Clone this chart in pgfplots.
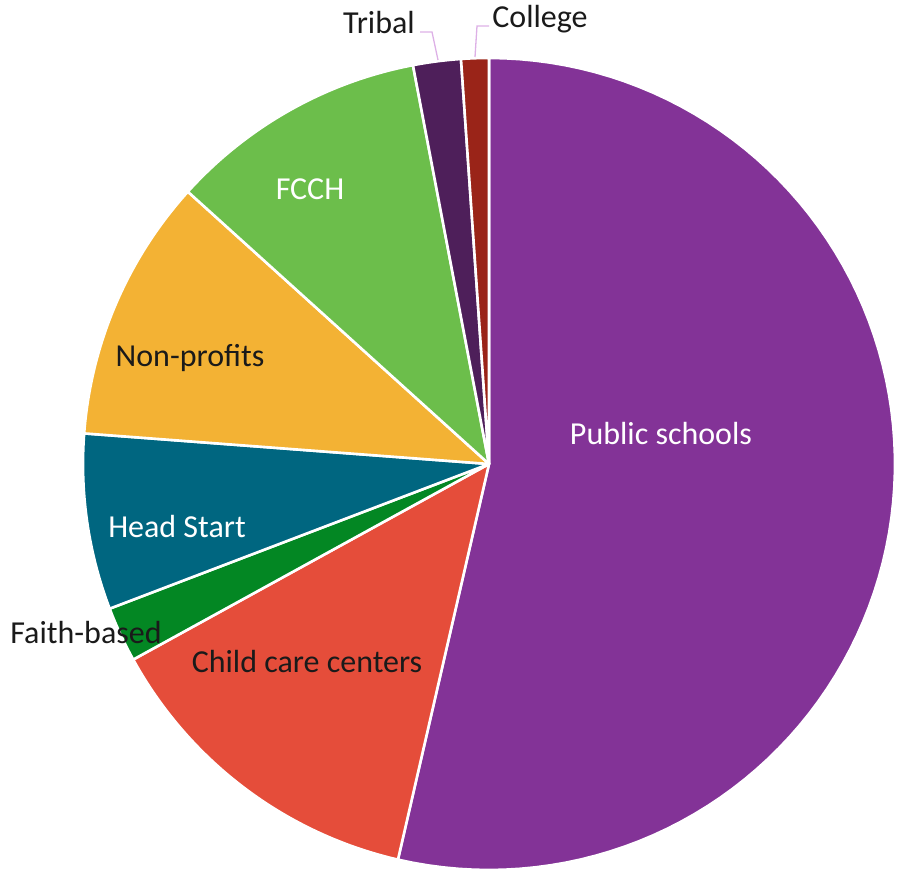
\documentclass[border=0pt]{standalone}
\usepackage{pgfplots}
\pgfplotsset{compat=1.18}
\usepackage{fontspec}
\setmainfont{Carlito}
\definecolor{cPub}{HTML}{833397}
\definecolor{cChild}{HTML}{E54D3A}
\definecolor{cFaith}{HTML}{038723}
\definecolor{cHead}{HTML}{006680}
\definecolor{cNon}{HTML}{F3B234}
\definecolor{cFCCH}{HTML}{6CBE4B}
\definecolor{cTribal}{HTML}{4E1F5A}
\definecolor{cCollege}{HTML}{9A2418}
\definecolor{cLead}{HTML}{DDB0E6}
\definecolor{cTxt}{HTML}{1A1A1A}
% shares (percent)
\def\vPub{53.6}
\def\vChild{13.4}
\def\vFaith{2.2}
\def\vHead{7.0}
\def\vNon{10.5}
\def\vFCCH{10.3}
\def\vTribal{1.9}
\def\vCollege{1.1}
\pgfmathsetmacro\aA{90}
\pgfmathsetmacro\aB{\aA-3.6*\vPub}
\pgfmathsetmacro\aC{\aB-3.6*\vChild}
\pgfmathsetmacro\aD{\aC-3.6*\vFaith}
\pgfmathsetmacro\aE{\aD-3.6*\vHead}
\pgfmathsetmacro\aF{\aE-3.6*\vNon}
\pgfmathsetmacro\aG{\aF-3.6*\vFCCH}
\pgfmathsetmacro\aH{\aG-3.6*\vTribal}
\pgfmathsetmacro\aI{\aH-3.6*\vCollege}
\newcommand{\pieslice}[3]{%
  \addplot[fill=#1, draw=white, line width=2.6pt, line join=round, domain=#3:#2, samples=90]
    ({489+406*cos(x)},{408+406*sin(x)}) -- (axis cs:489,408) -- cycle;}
\begin{document}
\begin{tikzpicture}
\begin{axis}[x=1pt, y=1pt, scale only axis, hide axis, clip=false,
  xmin=0, xmax=898, ymin=0, ymax=872]
\path (axis cs:0,0) rectangle (axis cs:898,872);
\pieslice{cPub}{\aA}{\aB}
\pieslice{cChild}{\aB}{\aC}
\pieslice{cFaith}{\aC}{\aD}
\pieslice{cHead}{\aD}{\aE}
\pieslice{cNon}{\aE}{\aF}
\pieslice{cFCCH}{\aF}{\aG}
\pieslice{cTribal}{\aG}{\aH}
\pieslice{cCollege}{\aH}{\aI}
\addplot[cLead, line width=1.3pt, mark=none] coordinates {(420,840) (432,840) (438,812)};
\addplot[cLead, line width=1.3pt, mark=none] coordinates {(489,846) (477,846) (475,815)};
\begin{scope}[font=\fontsize{32}{38}\selectfont]
\node[white] at (axis cs:661,438) {Public schools};
\node[white] at (axis cs:310,683) {FCCH};
\node[cTxt] at (axis cs:190,514) {Non-profits};
\node[white] at (axis cs:177,345) {Head Start};
\node[cTxt] at (axis cs:86,239) {Faith-based};
\node[cTxt] at (axis cs:307,210) {Child care centers};
\node[cTxt] at (axis cs:379,849) {Tribal};
\node[cTxt] at (axis cs:540,853) {College};
\end{scope}
\end{axis}
\end{tikzpicture}
\end{document}
